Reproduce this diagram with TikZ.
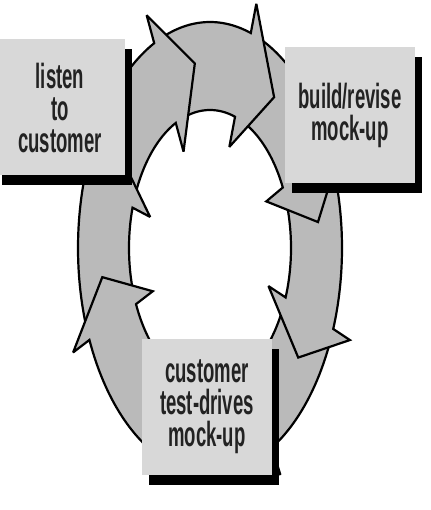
\documentclass[tikz,border=0pt]{standalone}
\usepackage{fontspec}
\newfontfamily\boxfont[FakeStretch=0.53]{Liberation Sans Bold}
\usetikzlibrary{shadows}
\definecolor{boxgray}{RGB}{216,216,216}
\definecolor{ringgray}{RGB}{186,186,186}
\definecolor{textgray}{RGB}{34,34,34}
\tikzset{
  phasebox/.style={fill=boxgray, align=center, minimum width=130pt, minimum height=136pt,
    inner sep=0pt, text=textgray, font=\boxfont\fontsize{35}{32}\selectfont,
    drop shadow={shadow xshift=7pt, shadow yshift=-10pt, fill=black, opacity=1}},
  ringband/.style={draw=black, fill=ringgray, line width=2.2pt, line join=miter, miter limit=3},
  declare function={ringx(\ta,\sa)=210+(81+51*\sa)*cos(\ta); ringy(\ta,\sa)=248-(138+88*\sa)*sin(\ta);}
}

\begin{document}
\begin{tikzpicture}[x=1pt,y=-1pt]
  \fill[white] (0,0) rectangle (430,510);
  \useasboundingbox (0,0) rectangle (430,510);

  % ring of arrows, clockwise, drawn from the bottom layer up
  \foreach \tail/\base/\tip in {-25/-62/-79, 22/-21/-36, 68/26/8, 111/72/54,
      160/115/98, 200/163/148, 255/204/189}{
    \draw[ringband] plot[domain=\tail:\base, samples=30] ({ringx(\x,1)},{ringy(\x,1)})
      -- ({ringx(\base,1.35)},{ringy(\base,1.35)})
      -- ({ringx(\tip,0.55)},{ringy(\tip,0.55)})
      -- ({ringx(\base,-0.36)},{ringy(\base,-0.36)})
      -- plot[domain=\base:\tail, samples=30] ({ringx(\x,0)},{ringy(\x,0)})
      -- cycle;
  }

  \node[phasebox] (listen) at (60,107.5) {listen\\to\\customer};
  \node[phasebox] (build) at (350,115) {build/revise\\mock-up};
  \node[phasebox] (testdrive) at (207,406.5) {customer\\test-drives\\mock-up};
\end{tikzpicture}
\end{document}
